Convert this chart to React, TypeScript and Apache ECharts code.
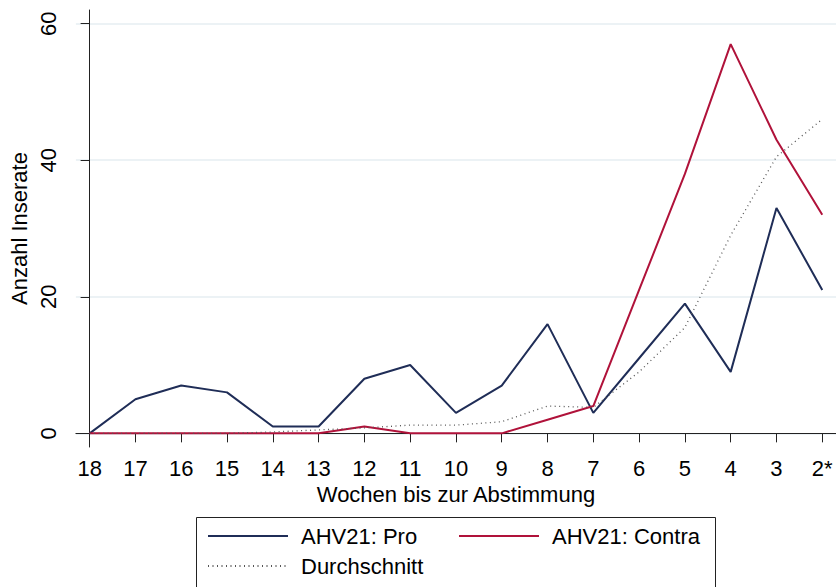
import React, { useEffect, useRef } from "react";
import * as echarts from "echarts";

const weeks = ["18", "17", "16", "15", "14", "13", "12", "11", "10", "9", "8", "7", "6", "5", "4", "3", "2*"];
const pro = [0, 5, 7, 6, 1, 1, 8, 10, 3, 7, 16, 3, 11, 19, 9, 33, 21];
const contra = [0, 0, 0, 0, 0, 0, 1, 0, 0, 0, 2, 4, 21, 38, 57, 43, 32];
const avg = [0, 0, 0, 0, 0.2, 0.5, 0.8, 1.2, 1.2, 1.7, 4.0, 3.8, 9.0, 15.5, 29, 40.5, 46];
const yTicks = [0, 20, 40, 60];

const seriesNames = ["AHV21: Pro", "AHV21: Contra", "Durchschnitt"];
const FONT = "'Liberation Sans', Arial, Helvetica, sans-serif";
const FS = 22;

export default function App() {
  const ref = useRef<HTMLDivElement>(null);

  useEffect(() => {
    if (!ref.current) return;
    const chart = echarts.init(ref.current, null, { renderer: "svg" });
    const toPairs = (arr: number[]) => arr.map((v, i) => [i, v]);
    const xIdx = weeks.map((_, i) => i);

    const legendBase = {
      show: true,
      orient: "vertical",
      top: 525,
      padding: 0,
      itemGap: 8,
      itemWidth: 80,
      itemHeight: 22,
      itemStyle: { opacity: 0, color: "rgba(0,0,0,0)", borderWidth: 0 },
      textStyle: {
        fontSize: FS,
        color: "#000",
        fontFamily: FONT,
        padding: [0, 0, 0, 8],
      },
    };

    chart.setOption({
      animation: false,
      backgroundColor: "#ffffff",
      textStyle: { fontFamily: FONT },
      grid: { left: 74, right: 0, top: 10, bottom: 140, containLabel: false },
      graphic: [
        {
          type: "rect",
          left: 196,
          top: 517,
          shape: { x: 0, y: 0, width: 519, height: 80 },
          style: { fill: "#fff", stroke: "#222", lineWidth: 1 },
          z: -1,
          silent: true,
        },
      ],
      xAxis: {
        type: "value",
        min: -0.3,
        max: 16.3,
        name: "Wochen bis zur Abstimmung",
        nameLocation: "middle",
        nameGap: 32,
        nameTextStyle: { fontSize: FS, color: "#000", fontFamily: FONT },
        axisLine: { show: true, lineStyle: { color: "#222", width: 1 } },
        axisTick: { show: true, length: 9, customValues: xIdx, lineStyle: { color: "#222", width: 1 } },
        axisLabel: {
          show: true,
          customValues: xIdx,
          margin: 10,
          fontSize: FS,
          color: "#000",
          fontFamily: FONT,
          formatter: (v: number) => weeks[Math.round(v)] ?? "",
        },
        splitLine: { show: false },
      },
      yAxis: {
        type: "value",
        min: -2,
        max: 62,
        name: "Anzahl Inserate",
        nameLocation: "middle",
        nameGap: 40,
        nameTextStyle: { fontSize: FS, color: "#000", fontFamily: FONT },
        axisLine: { show: true, lineStyle: { color: "#222", width: 1 } },
        axisTick: { show: true, length: 9, customValues: yTicks, lineStyle: { color: "#222", width: 1 } },
        axisLabel: {
          show: true,
          customValues: yTicks,
          rotate: 90,
          margin: 16,
          fontSize: FS,
          color: "#000",
          fontFamily: FONT,
        },
        splitLine: { show: true, lineStyle: { color: "#e6eef2", width: 1.5 } },
      },
      legend: [
        { ...legendBase, left: 207, data: [seriesNames[0], seriesNames[2]] },
        { ...legendBase, left: 458, data: [seriesNames[1]] },
      ],
      series: [
        {
          name: seriesNames[0],
          type: "line",
          data: toPairs(pro),
          symbol: "none",
          showSymbol: false,
          color: "#1f2d57",
          lineStyle: { color: "#1f2d57", width: 2 },
          z: 3,
        },
        {
          name: seriesNames[1],
          type: "line",
          data: toPairs(contra),
          symbol: "none",
          showSymbol: false,
          color: "#b0123a",
          lineStyle: { color: "#b0123a", width: 2 },
          z: 4,
        },
        {
          name: seriesNames[2],
          type: "line",
          data: toPairs(avg),
          symbol: "none",
          showSymbol: false,
          color: "#555555",
          lineStyle: { color: "#555555", width: 1.3, type: [1, 3.5] },
          z: 5,
        },
      ],
    });

    return () => chart.dispose();
  }, []);

  return (
    <div
      ref={ref}
      style={{ position: "fixed", left: 0, top: 0, width: 836, height: 587, background: "#fff" }}
    />
  );
}
